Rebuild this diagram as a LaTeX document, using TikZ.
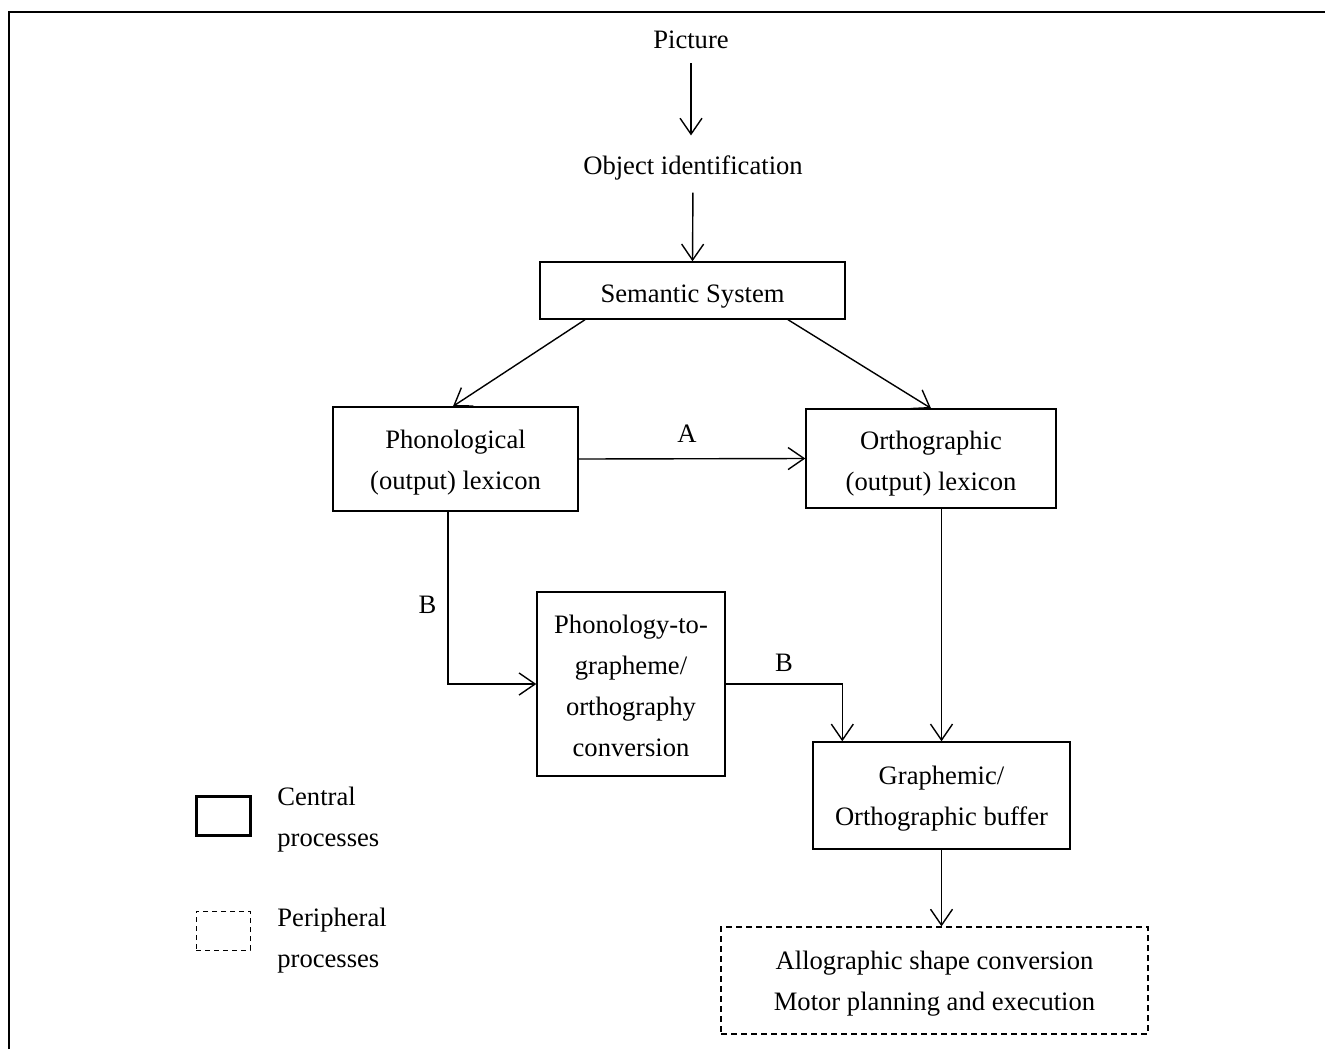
\documentclass[tikz,border=0pt]{standalone}
\usepackage{fontspec}
\setmainfont{Liberation Serif}
\usetikzlibrary{arrows.meta,positioning}
\newcommand{\tup}[1][12pt]{\rule{0pt}{#1}}

\begin{document}
\begin{tikzpicture}[
  x=0.5pt,y=-0.5pt,
  font=\fontsize{13.3}{20.5}\selectfont,
  box/.style={draw,line width=.7pt,align=center,inner sep=2pt},
  periph/.style={box,dash pattern=on 3pt off 2pt,line width=.6pt},
  legbox/.style={minimum width=27pt,minimum height=19.5pt,inner sep=0pt},
  legtxt/.style={align=left,anchor=west,inner sep=0pt},
  arr/.style={-{Straight Barb[length=8pt,width=11pt]},line width=.7pt},
  lbl/.style={inner sep=1pt}
]
\useasboundingbox (0,0) rectangle (1325,1049);
% frame, cut at right and bottom
\draw[line width=1pt] (9,1049) -- (9,12) -- (1325,12);

\node[lbl] (pic) at (691,40) {Picture};
\node[lbl] (obj) at (693,168) {Object identification};
\node[box,minimum width=152.5pt,minimum height=28.5pt] (sem) at (692.5,290.5) {\tup[14.5pt]Semantic System};
\node[box,minimum width=122.5pt,minimum height=52pt] (phon) at (455.5,459) {\tup[13.2pt]Phonological\\(output) lexicon};
\node[box,minimum width=125pt,minimum height=49.5pt] (orth) at (931,458.5) {\tup[14.2pt]Orthographic\\(output) lexicon};
\node[box,minimum width=94pt,minimum height=92pt] (pgc) at (631,684) {\tup[11.3pt]Phonology-to-\\grapheme/\\orthography\\conversion};
\node[box,minimum width=128.5pt,minimum height=53.5pt] (graph) at (941.5,795.5) {\tup Graphemic/\\Orthographic buffer};
\node[periph,minimum width=213.5pt,minimum height=53.5pt] (allo) at (934.5,980.5) {\tup Allographic shape conversion\\Motor planning and execution};

\draw[arr,shorten <=6pt,shorten >=9pt] (pic.south) -- (pic.south |- obj.north);
\draw[arr,shorten <=5pt] (obj.south) -- (sem.north);
\draw[arr] ([xshift=-53.75pt]sem.south) -- ([xshift=-1.25pt]phon.north);
\draw[arr] ([xshift=47.75pt]sem.south) -- (orth.north);
\draw[arr] (phon.east) -- (orth.west) node[lbl,midway,above=7pt,xshift=-2.5pt] (a) {A};
\draw[arr] ([xshift=-3.75pt]phon.south) |- (pgc.west) node[lbl,pos=.25,left=4.5pt,yshift=-3.5pt] (b1) {B};
\draw[arr] (pgc.east) -| ([xshift=15pt]graph.north west) node[lbl,pos=.25,above=5pt] (b2) {B};
\draw[arr] (orth.south -| graph.north) -- (graph.north);
\draw[arr] (graph.south) -- (graph.south |- allo.north);

% legend
\node[draw,line width=1.5pt,legbox] (lcen) at (223,815.5) {};
\node[legtxt] (lcentxt) at (277,817) {\tup Central\\processes};
\node[draw,dash pattern=on 2.5pt off 2pt,line width=.5pt,legbox] (lper) at (223,930.5) {};
\node[legtxt] (lpertxt) at (277,937.5) {\tup Peripheral\\processes};
\end{tikzpicture}
\end{document}
